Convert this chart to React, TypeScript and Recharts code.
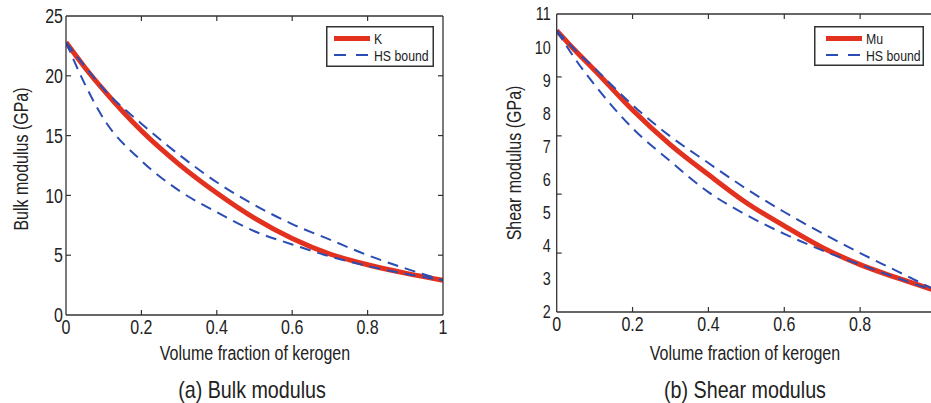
import { LineChart, Line, XAxis, YAxis } from "recharts";

const FONT = "'Liberation Sans', Arial, sans-serif";
const SQUEEZE = 0.8;
const RED = "#e2321f";
const BLUE = "#2b4db3";
const BOX = "#333";

// volume fraction of kerogen
const fractions = [0, 0.05, 0.1, 0.2, 0.3, 0.4, 0.5, 0.6, 0.7, 0.8, 0.9, 1];

// (a) bulk modulus, GPa
const bulkK = [22.8, 20.7, 18.8, 15.4, 12.6, 10.2, 8.1, 6.4, 5.1, 4.2, 3.5, 2.9];
const bulkUpper = [22.8, 20.8, 18.9, 16.0, 13.4, 11.1, 9.2, 7.6, 6.3, 5.0, 3.9, 2.9];
const bulkLower = [22.8, 19.3, 16.4, 12.9, 10.4, 8.6, 7.0, 5.9, 4.9, 4.1, 3.45, 2.9];

// (b) shear modulus, GPa
const shearMu = [10.5, 9.88, 9.3, 8.1, 7.05, 6.15, 5.3, 4.6, 3.95, 3.43, 3.02, 2.64];
const shearUpper = [10.5, 9.9, 9.36, 8.25, 7.3, 6.5, 5.72, 5.02, 4.38, 3.78, 3.22, 2.65];
const shearLower = [10.5, 9.62, 8.86, 7.55, 6.55, 5.62, 4.93, 4.36, 3.86, 3.43, 3.02, 2.63];

const xTicks = [0, 0.2, 0.4, 0.6, 0.8, 1];
const xTicksShear = [0, 0.2, 0.4, 0.6, 0.8];
const xMarks = [0.2, 0.4, 0.6, 0.8];
const bulkTicks = [0, 5, 10, 15, 20, 25];
const bulkMarks = [5, 10, 15, 20];
const shearTicks = [2, 3, 4, 5, 6, 7, 8, 9, 10, 11];
const shearMarks = [3.78, 5.56, 7.32, 9.1];

const bulkRows = fractions.map((f, i) => ({ f, main: bulkK[i], upper: bulkUpper[i], lower: bulkLower[i] }));
const shearRows = fractions.map((f, i) => ({ f, main: shearMu[i], upper: shearUpper[i], lower: shearLower[i] }));

const blank = () => "";

// narrow tick text, the figure uses a condensed face
const NarrowTick = (props: any) => {
  const { x, y, payload, textAnchor, fontSize } = props;
  const vertical = textAnchor === "end";
  return (
    <text
      transform={`translate(${x},${y}) scale(${SQUEEZE},1)`}
      textAnchor={textAnchor}
      dy={vertical ? "0.355em" : "0.71em"}
      fontSize={fontSize}
      fill="#222"
      fontFamily={FONT}
    >
      {payload.value}
    </text>
  );
};

interface PanelProps {
  rows: Array<{ f: number; main: number; upper: number; lower: number }>;
  left: number;
  margin: { top: number; right: number; bottom: number; left: number };
  yDomain: [number, number];
  yTicks: number[];
  yMarks: number[];
  xLabels: number[];
  yFont: number;
  yGap: number;
}

const Panel = ({ rows, left, margin, yDomain, yTicks, yMarks, xLabels, yFont, yGap }: PanelProps) => (
  <LineChart
    width={470}
    height={403}
    data={rows}
    margin={margin}
    style={{ position: "absolute", left, top: 0, fontFamily: FONT }}
  >
    <XAxis
      xAxisId="x"
      dataKey="f"
      type="number"
      domain={[0, 1]}
      allowDataOverflow
      ticks={xLabels}
      interval={0}
      height={30}
      tickLine={false}
      tickSize={0}
      tickMargin={5}
      axisLine={{ stroke: BOX, strokeWidth: 1.3 }}
      tick={<NarrowTick fontSize={20} />}
    />
    {/* inward tick marks and the box edges */}
    <XAxis xAxisId="xb" dataKey="f" type="number" domain={[0, 1]} allowDataOverflow ticks={xMarks} interval={0}
      orientation="bottom" mirror height={1} axisLine={false} tickSize={5}
      tickLine={{ stroke: BOX, strokeWidth: 1.2 }} tickFormatter={blank} />
    <XAxis xAxisId="xt" dataKey="f" type="number" domain={[0, 1]} allowDataOverflow ticks={xMarks} interval={0}
      orientation="top" mirror height={1} axisLine={{ stroke: BOX, strokeWidth: 1.3 }} tickSize={5}
      tickLine={{ stroke: BOX, strokeWidth: 1.2 }} tickFormatter={blank} />
    <YAxis
      yAxisId="y"
      type="number"
      domain={yDomain}
      allowDataOverflow
      ticks={yTicks}
      interval={0}
      width={40}
      tickLine={false}
      tickSize={0}
      tickMargin={yGap}
      axisLine={{ stroke: BOX, strokeWidth: 1.3 }}
      tick={<NarrowTick fontSize={yFont} />}
    />
    <YAxis yAxisId="yl" type="number" domain={yDomain} allowDataOverflow ticks={yMarks} interval={0}
      orientation="left" mirror width={1} axisLine={false} tickSize={5}
      tickLine={{ stroke: BOX, strokeWidth: 1.2 }} tickFormatter={blank} />
    <YAxis yAxisId="yr" type="number" domain={yDomain} allowDataOverflow ticks={yMarks} interval={0}
      orientation="right" mirror width={1} axisLine={{ stroke: BOX, strokeWidth: 1.3 }} tickSize={5}
      tickLine={{ stroke: BOX, strokeWidth: 1.2 }} tickFormatter={blank} />
    <Line xAxisId="x" yAxisId="y" type="monotone" dataKey="main" stroke={RED} strokeWidth={5}
      dot={false} isAnimationActive={false} />
    <Line xAxisId="x" yAxisId="y" type="monotone" dataKey="upper" stroke={BLUE} strokeWidth={2}
      strokeDasharray="11 7" dot={false} isAnimationActive={false} />
    <Line xAxisId="x" yAxisId="y" type="monotone" dataKey="lower" stroke={BLUE} strokeWidth={2}
      strokeDasharray="11 7" dot={false} isAnimationActive={false} />
  </LineChart>
);

const LegendBox = ({ x, y, w, h, name, lineX }: { x: number; y: number; w: number; h: number; name: string; lineX: number }) => (
  <svg width={w} height={h} style={{ position: "absolute", left: x, top: y }}>
    <rect x={0.75} y={0.75} width={w - 1.5} height={h - 1.5} fill="white" stroke={BOX} strokeWidth={1.5} />
    <line x1={lineX} x2={lineX + 36} y1={12.5} y2={12.5} stroke={RED} strokeWidth={5} />
    <line x1={lineX} x2={lineX + 36} y1={29} y2={29} stroke={BLUE} strokeWidth={2} strokeDasharray="12 10" />
    <text transform={`translate(${lineX + 40},18) scale(0.82,1)`} fontSize={15} fill="#222" fontFamily={FONT}>{name}</text>
    <text transform={`translate(${lineX + 40},34.5) scale(0.82,1)`} fontSize={15} fill="#222" fontFamily={FONT}>HS bound</text>
  </svg>
);

const textStyle = { position: "absolute" as const, fontFamily: FONT, color: "#222", lineHeight: 1, whiteSpace: "nowrap" as const };

const App = () => {
  return (
    <div style={{ position: "absolute", left: 0, top: 0, width: 931, height: 403, overflow: "hidden", background: "white" }}>
      <Panel rows={bulkRows} left={0} margin={{ top: 16, right: 27, bottom: 58, left: 26 }}
        yDomain={[0, 25]} yTicks={bulkTicks} yMarks={bulkMarks} xLabels={xTicks} yFont={20} yGap={3} />
      <Panel rows={shearRows} left={470} margin={{ top: 14, right: 4, bottom: 61, left: 46.7 }}
        yDomain={[2, 11]} yTicks={shearTicks} yMarks={shearMarks} xLabels={xTicksShear} yFont={18} yGap={6} />

      <LegendBox x={326} y={26} w={108} h={41} name="K" lineX={8} />
      <LegendBox x={814} y={26} w={110} h={40} name="Mu" lineX={12} />

      <div style={{ ...textStyle, fontSize: 20, left: 20.5, top: 158.5, transform: `translate(-50%, -50%) rotate(-90deg) scaleX(${SQUEEZE})` }}>
        Bulk modulus (GPa)
      </div>
      <div style={{ ...textStyle, fontSize: 20, left: 514, top: 163, transform: `translate(-50%, -50%) rotate(-90deg) scaleX(${SQUEEZE})` }}>
        Shear modulus (GPa)
      </div>

      <div style={{ ...textStyle, fontSize: 20, left: 254.5, top: 343, transform: `translateX(-50%) scaleX(${SQUEEZE})` }}>
        Volume fraction of kerogen
      </div>
      <div style={{ ...textStyle, fontSize: 20, left: 745, top: 343, transform: `translateX(-50%) scaleX(${SQUEEZE})` }}>
        Volume fraction of kerogen
      </div>
      <div style={{ ...textStyle, fontSize: 24, left: 252, top: 377.5, transform: "translateX(-50%) scaleX(0.82)" }}>
        (a) Bulk modulus
      </div>
      <div style={{ ...textStyle, fontSize: 24, left: 745, top: 377.5, transform: "translateX(-50%) scaleX(0.82)" }}>
        (b) Shear modulus
      </div>
    </div>
  );
};

export default App;
